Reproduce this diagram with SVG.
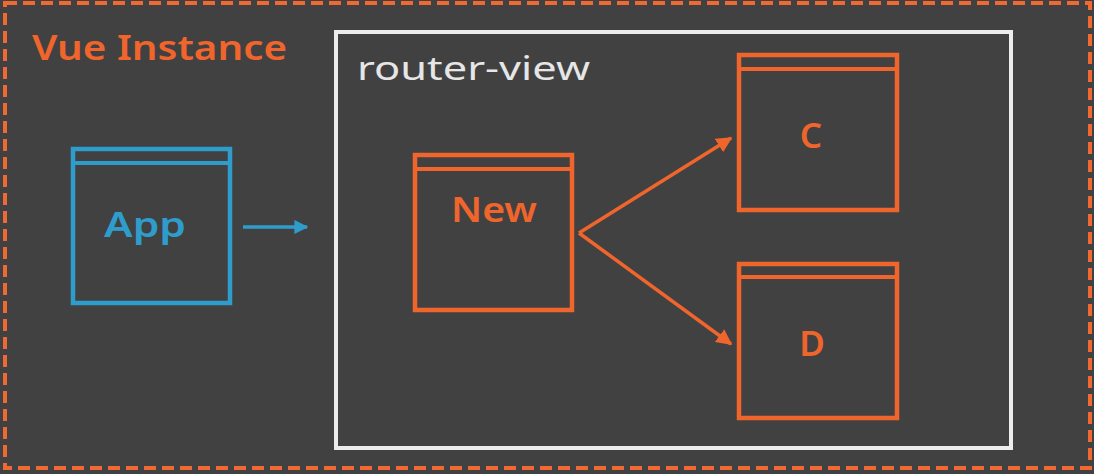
<svg xmlns="http://www.w3.org/2000/svg" width="1094" height="474" viewBox="0 0 1094 474">
<defs>
<style>
.bg{fill:#414141}
.frame{fill:none;stroke:#ee6a32;stroke-width:4;stroke-dasharray:12 6}
.rv{fill:none;stroke:#ececec;stroke-width:4}
.win{fill:none;stroke-width:4.5}
.o{stroke:#f0652c}
.b{stroke:#2f9dcc}
.lbl{font-family:"Noto Sans","Lato",sans-serif;font-weight:600;text-anchor:middle}
.conn{stroke-width:3.5;fill:none}
</style>
<marker id="ao" viewBox="0 0 10 10" refX="9" refY="5" markerWidth="4.5" markerHeight="4.5" orient="auto" markerUnits="strokeWidth"><path d="M0,0 L10,5 L0,10 z" fill="#f0652c"/></marker>
<marker id="ab" viewBox="0 0 10 10" refX="9" refY="5" markerWidth="4" markerHeight="4" orient="auto" markerUnits="strokeWidth"><path d="M0,0 L10,5 L0,10 z" fill="#2f9dcc"/></marker>
</defs>
<rect class="bg" x="0" y="0" width="1094" height="474"/>
<g id="vue-instance">
<rect class="frame" x="5" y="3" width="1085" height="465"/>
<text x="32" y="60" font-family="'Noto Sans',Lato,sans-serif" font-weight="600" font-size="34" fill="#f0652c" textLength="255" lengthAdjust="spacingAndGlyphs">Vue Instance</text>
</g>
<g id="router-view">
<rect class="rv" x="336" y="32" width="675" height="416"/>
<text x="357" y="80" font-family="'Noto Sans',Lato,sans-serif" font-size="32" fill="#e6e6e6" textLength="233" lengthAdjust="spacingAndGlyphs">router-view</text>
</g>
<g id="app">
<rect class="win b" x="73" y="149" width="157" height="154"/>
<line class="b" x1="73" y1="163" x2="230" y2="163" stroke-width="4"/>
<text class="lbl" x="145" y="237" font-size="35" fill="#2f9dcc" textLength="82" lengthAdjust="spacingAndGlyphs">App</text>
</g>
<g id="new">
<rect class="win o" x="415" y="155" width="157" height="155"/>
<line class="o" x1="415" y1="169" x2="572" y2="169" stroke-width="4"/>
<text class="lbl" x="494" y="222" font-size="35" fill="#f0652c" textLength="86" lengthAdjust="spacingAndGlyphs">New</text>
</g>
<g id="c">
<rect class="win o" x="739" y="55" width="158" height="155"/>
<line class="o" x1="739" y1="69" x2="897" y2="69" stroke-width="4"/>
<text class="lbl" x="811" y="148" font-size="35" fill="#f0652c">C</text>
</g>
<g id="d">
<rect class="win o" x="739" y="264" width="158" height="154"/>
<line class="o" x1="739" y1="277" x2="897" y2="277" stroke-width="4"/>
<text class="lbl" x="812" y="356" font-size="35" fill="#f0652c">D</text>
</g>
<g id="connectors">
<line class="conn" stroke="#2f9dcc" x1="243" y1="227" x2="307" y2="227" marker-end="url(#ab)"/>
<polyline class="conn" stroke="#f0652c" points="579,233 731,138" marker-end="url(#ao)"/>
<polyline class="conn" stroke="#f0652c" points="579,233 731,344" marker-end="url(#ao)"/>
</g>
</svg>
